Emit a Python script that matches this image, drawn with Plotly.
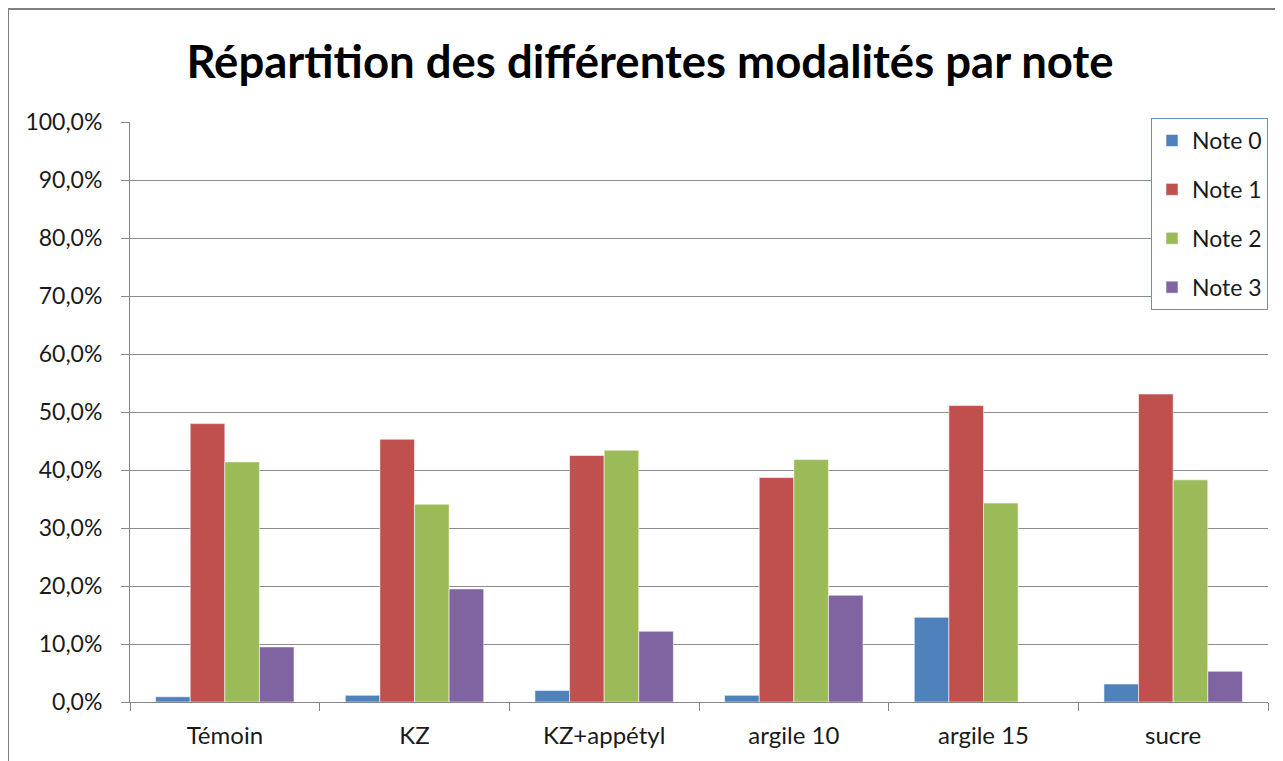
import plotly.graph_objects as go

categories = ["Témoin", "KZ", "KZ+appétyl", "argile 10", "argile 15", "sucre"]
series_names = ["Note 0", "Note 1", "Note 2", "Note 3"]
note0 = [0.009, 0.0115, 0.020, 0.0115, 0.146, 0.031]
note1 = [0.480, 0.453, 0.425, 0.387, 0.511, 0.531]
note2 = [0.414, 0.341, 0.434, 0.418, 0.343, 0.383]
note3 = [0.095, 0.195, 0.122, 0.184, 0.0, 0.053]
colors = ["#4F81BD", "#C0504D", "#9BBB59", "#8064A2"]
title_text = "Répartition des différentes modalités par note"

FONT = "Lato"
fig = go.Figure()
for name, vals, col in zip(series_names, [note0, note1, note2, note3], colors):
    fig.add_trace(go.Bar(
        x=categories, y=vals, name=name, legendgroup=name,
        marker=dict(color=col, line=dict(color="rgba(255,255,255,0.55)", width=1)),
    ))

# page body has an 8px margin
OFF = 8
W, H = 1275, 753
L, T = 130 - OFF, 122 - OFF
R = OFF + W - 1268
B = OFF + H - 702
pw, ph = W - L - R, H - T - B

fig.update_layout(
    width=W, height=H,
    margin=dict(l=L, r=R, t=T, b=B, autoexpand=False),
    paper_bgcolor="white", plot_bgcolor="white",
    separators=", ",
    barmode="group", bargap=0.27, bargroupgap=0,
    font=dict(family=FONT, color="#1a1a1a", size=23),
    title=dict(text="<b>" + title_text + "</b>", x=(650 - OFF) / W, xanchor="center",
               y=1 - (62 - OFF) / H, yanchor="middle",
               font=dict(family=FONT, size=45.5, color="#000000")),
    legend=dict(
        x=1, xanchor="right", y=(702 - 118) / ph, yanchor="top",
        bgcolor="white", bordercolor="#6C8EBF", borderwidth=1,
        font=dict(family=FONT, size=23, color="#1a1a1a"),
        tracegroupgap=16, traceorder="grouped",
    ),
    showlegend=True,
    xaxis=dict(
        showline=True, linecolor="#868686", linewidth=1,
        ticks="outside", ticklen=8, tickcolor="#868686", tickson="boundaries",
        tickfont=dict(family=FONT, size=24, color="#1a1a1a"),
        ticklabelstandoff=12, automargin=False,
        showgrid=False, fixedrange=True,
    ),
    yaxis=dict(
        range=[0, 1], dtick=0.1, tickformat=".1%",
        showline=True, linecolor="#868686", linewidth=1,
        ticks="outside", ticklen=8, tickcolor="#868686",
        ticklabelstandoff=14, automargin=False,
        showgrid=True, gridcolor="#8c8c8c", gridwidth=1,
        tickfont=dict(family=FONT, size=23, color="#1a1a1a"),
        zeroline=False, fixedrange=True,
    ),
    shapes=[dict(
        type="rect", xref="paper", yref="paper",
        x0=(8 - 130) / pw, x1=1.1, y0=-0.3, y1=(702 - 9) / ph,
        line=dict(color="#7f7f7f", width=2), fillcolor="rgba(0,0,0,0)", layer="below",
    )],
)

fig.write_html("out.html")
